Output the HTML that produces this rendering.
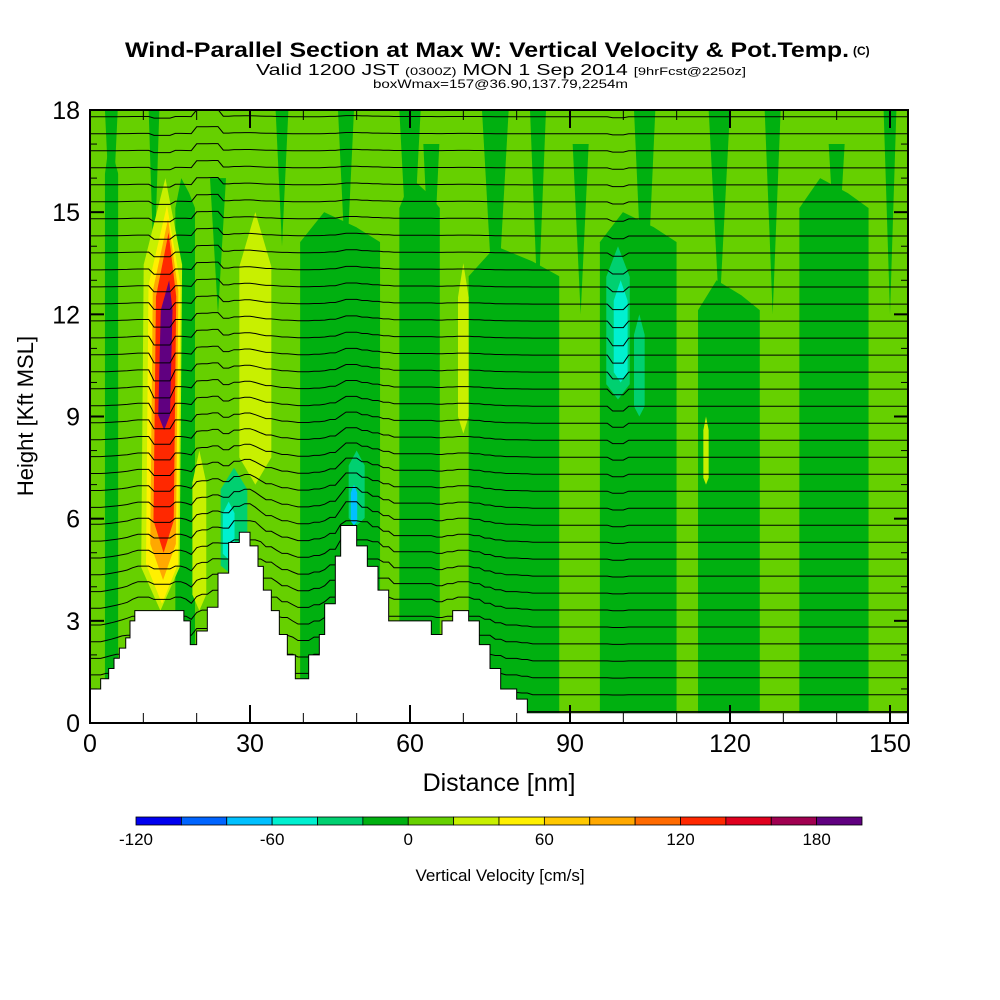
<!DOCTYPE html>
<html><head><meta charset="utf-8"><title>Wind-Parallel Section</title>
<style>
html,body{margin:0;padding:0;background:#fff;}
svg{display:block;font-family:"Liberation Sans Narrow","Liberation Sans",sans-serif;}
</style></head>
<body>
<svg id="chart" width="1000" height="1000" viewBox="0 0 1000 1000" xmlns="http://www.w3.org/2000/svg">
<g>
<text x="125" y="57" font-size="21" font-weight="bold" textLength="724" lengthAdjust="spacingAndGlyphs">Wind-Parallel Section at Max W: Vertical Velocity &amp; Pot.Temp.</text>
<text x="853" y="55" font-size="12" font-weight="bold">(C)</text>
<text x="256" y="75" font-size="16" textLength="490" lengthAdjust="spacingAndGlyphs">Valid 1200 JST <tspan font-size="11">(0300Z)</tspan> MON 1 Sep 2014 <tspan font-size="11">[9hrFcst@2250z]</tspan></text>
<text x="373" y="88" font-size="12" textLength="255" lengthAdjust="spacingAndGlyphs">boxWmax=157@36.90,137.79,2254m</text>
</g>
<defs><clipPath id="plotclip"><rect x="90" y="110" width="818" height="613"/></clipPath></defs>
<g id="plot" clip-path="url(#plotclip)"></g>
<g id="axes"></g>
<g id="cbar"></g>
</svg>
<script>
// ---- data ----
const xTicks = [0, 30, 60, 90, 120, 150];
const yTicks = [0, 3, 6, 9, 12, 15, 18];
const cbarLevels = [-120,-100,-80,-60,-40,-20,0,20,40,60,80,100,120,140,160,180,200];
const cbarLabels = [-120, -60, 0, 60, 120, 180];
const cbarColors = ["#0000f0","#0064ff","#00c0ff","#00f0d0","#00d070","#00b010","#66d000","#c8f000","#fff000","#ffc800","#ffa800","#ff6a00","#ff2800","#e0001e","#a00050","#600080"];
// terrain profile: distance (nm) and height (kft)
const terrainX = [0,2,3.5,4.5,5.5,6.7,7.5,8.4,14,17.6,18.8,20,22,24,26,28,30,31.5,32.5,34,35.5,37,38.5,40,41,43,44,46,47,49,50,52,54,56,58,60,63,64,66,68,69,71,73,75,77,80,82,154];
const terrainH = [1,1.3,1.6,1.9,2.2,2.5,3.0,3.3,3.3,3.0,2.3,2.7,3.4,4.4,5.3,5.6,5.2,4.6,3.9,3.3,2.6,2.0,1.3,1.3,2.0,2.6,3.5,4.9,5.8,5.8,5.2,4.6,3.9,3.0,3.0,3.0,3.0,2.6,3.0,3.3,3.3,3.0,2.3,1.6,1.0,0.7,0.3,0.3];
// vertical velocity columns (nm start, nm end, colour bin index, top kft, bottom kft)
const colX0 = [0,2.8,5.3,9.4,16,19.7,39.4,54.4,58,65.6,71,88,95.6,110,114,125.6,133,146];
const colX1 = [2.8,5.3,9.4,16,19.7,39.4,54.4,58,65.6,71,88,95.6,110,114,125.6,133,146,154];
const colBin = [6,5,6,6,5,6,5,6,5,6,5,6,5,6,5,6,5,6];
const colTop = [18,17,18,18,16,18,15,18,16,18,14,18,15,18,13,18,16,18];
const colBot = [0,0,0,0,0,0,0,0,0,0,0,0,0,0,0,0,0,0];
// upper dark streaks: centre nm, half width nm, top kft, bottom kft
const streakX = [4,12,24,36,48,60,64,76,84,92,104,118,128,140,150];
const streakW = [1.2,1.0,1.5,1.2,1.5,2.0,1.5,2.5,1.5,1.5,2.0,2.0,1.5,1.5,1.2];
const streakTop = [18,18,16,18,18,18,17,18,18,17,18,18,18,17,18];
const streakBot = [14,13,12,14,13,12,12,11,12,12,11,12,12,13,12];
// notable features: centre nm, half-width nm, top kft, bottom kft, bin
const featX = [13.2,13.5,13.7,13.8,13.9,31,31.5,99,99.5,103,70,20.5,27,26,50,49.5,115.5];
const featW = [3.6,3.0,2.4,1.9,1.1,3.0,2.0,2.2,1.3,1.0,1.0,1.3,2.5,1.1,1.5,0.6,0.5];
const featTop = [16,15.2,14.8,14.4,13.0,15,13.5,14,13,12,13.5,8,7.5,6.5,8,7,9];
const featBot = [3.3,3.5,4.2,5.0,8.6,7.0,8.5,9.5,10,9,8.5,3.3,4.3,4.8,5.8,5.8,7];
const featBin = [7,8,10,12,15,7,7,4,3,4,7,7,4,3,4,2,7];
// potential temperature contour base heights (kft)
const thetaLevels = [0.3,0.8,1.3,1.8,2.3,2.8,3.3,3.8,4.3,4.8,5.3,5.8,6.3,6.8,7.3,7.8,8.3,8.8,9.3,9.8,10.3,10.8,11.3,11.8,12.3,12.8,13.3,13.8,14.3,14.8,15.3,15.8,16.3,16.8,17.3,17.8];

// ---- axes ----
const X0=90, X1=908, Y0=723, Y1=110;
const sx = v => X0 + v*(800/150);
const sy = v => Y0 - v*((Y0-Y1)/18);
const NS="http://www.w3.org/2000/svg";
function mk(tag, parent){ const e=document.createElementNS(NS,tag); parent.appendChild(e); return e; }
const plot=document.getElementById('plot'), axes=document.getElementById('axes'), cbar=document.getElementById('cbar');

const bg = mk('rect',plot);


bg.setAttribute('x',X0); bg.setAttribute('y',Y1); bg.setAttribute('width',X1-X0); bg.setAttribute('height',Y0-Y1); bg.setAttribute('fill',cbarColors[6]);

for(let i=0;i<colX0.length;i++){
  const r=mk('polygon',plot);
  
  
  const a=sx(colX0[i]), b=sx(colX1[i]), m=(a+b)/2;
  const t=sy(colTop[i]), bt=sy(colBot[i]);
  const notch = colTop[i]<18 ? 30 : 0;
  r.setAttribute('points',`${a},${bt} ${a},${t+notch} ${m-(b-a)*0.2},${t} ${m+(b-a)*0.2},${t+notch*0.5} ${b},${t+notch} ${b},${bt}`);
  r.setAttribute('fill',cbarColors[colBin[i]]);
}
for(let i=0;i<streakX.length;i++){
  const p=mk('polygon',plot);
  
  
  const c=sx(streakX[i]), w=streakW[i]*(800/150), t=sy(streakTop[i]), b=sy(streakBot[i]);
  p.setAttribute('points',`${c-w},${t} ${c+w},${t} ${c},${b}`);
  p.setAttribute('fill',cbarColors[5]);
}
for(let i=0;i<featX.length;i++){
  const p=mk('polygon',plot);
  
  
  const c=sx(featX[i]), w=featW[i]*(800/150), t=sy(featTop[i]), b=sy(featBot[i]);
  const tilt = i<5 ? 5 : 0;
  p.setAttribute('points',`${c+tilt},${t} ${c+w+tilt*0.5},${t+(b-t)*0.2} ${c+w},${b-(b-t)*0.1} ${c},${b} ${c-w},${b-(b-t)*0.1} ${c-w+tilt*0.5},${t+(b-t)*0.2}`);
  p.setAttribute('fill',cbarColors[featBin[i]]);
}
// terrain height lookup
function terr(x){
  for(let i=0;i<terrainX.length-1;i++){ if(x>=terrainX[i]&&x<=terrainX[i+1]) return terrainH[i]; }
  return terrainH[terrainH.length-1];
}
// theta contours
thetaLevels.forEach((lv,k)=>{
  const pl=mk('polyline',plot);
  
  
  const pts=[];
  for(let x=0;x<=154;x+=1){
    const h=terr(x);
    const decay=Math.exp(-Math.max(0,lv-h)/4);
    let y=lv + Math.min(h,lv)*0.12*decay;
    if(x>=12&&x<=15) y -= 0.35*Math.exp(-Math.abs(lv-10)/4);
    if(x>=98&&x<=100) y -= 0.25*Math.exp(-Math.abs(lv-11)/3);
    if(x>=20&&x<=24) y += 0.2;
    pts.push(sx(x).toFixed(1)+','+sy(y).toFixed(1));
  }
  pl.setAttribute('points',pts.join(' '));
  pl.setAttribute('fill','none'); pl.setAttribute('stroke','#000'); pl.setAttribute('stroke-width','1');
});
// terrain fill
const tp=[];
tp.push(sx(0)+','+sy(0));
for(let i=0;i<terrainX.length-1;i++){
  tp.push(sx(terrainX[i])+','+sy(terrainH[i]));
  tp.push(sx(terrainX[i+1])+','+sy(terrainH[i]));
}
tp.push(sx(154)+','+sy(0));
const tr=mk('polygon',plot);


tr.setAttribute('points',tp.join(' ')); tr.setAttribute('fill','#fff'); tr.setAttribute('stroke','#000'); tr.setAttribute('stroke-width','1');

// frame
const fr=mk('rect',axes);


fr.setAttribute('x',X0); fr.setAttribute('y',Y1); fr.setAttribute('width',X1-X0); fr.setAttribute('height',Y0-Y1);
fr.setAttribute('fill','none'); fr.setAttribute('stroke','#000'); fr.setAttribute('stroke-width','2');
for(let v=0; v<=150; v+=10){
  const major = v%30===0;
  [[Y0,-1],[Y1,1]].forEach(([yy,d])=>{
    const l=mk('line',axes);
    
    
    l.setAttribute('x1',sx(v)); l.setAttribute('x2',sx(v)); l.setAttribute('y1',yy); l.setAttribute('y2',yy+d*(major?18:10));
    l.setAttribute('stroke','#000'); l.setAttribute('stroke-width',major?2:1);
  });
}
xTicks.forEach(v=>{
  const t=mk('text',axes);
  
  
  t.setAttribute('x',sx(v)); t.setAttribute('y',752); t.setAttribute('text-anchor','middle'); t.setAttribute('font-size','25');
  t.setAttribute('font-family','Liberation Sans, sans-serif');
  t.textContent=v;
});
for(let v=0; v<=18; v+=1){
  const major=v%3===0;
  [[X0,1],[X1,-1]].forEach(([xx,d])=>{
    const l=mk('line',axes);
    
    
    l.setAttribute('y1',sy(v)); l.setAttribute('y2',sy(v)); l.setAttribute('x1',xx); l.setAttribute('x2',xx+d*(major?14:7));
    l.setAttribute('stroke','#000'); l.setAttribute('stroke-width',major?2:1);
  });
}
yTicks.forEach(v=>{
  const t=mk('text',axes);
  
  
  t.setAttribute('x',80); t.setAttribute('y',sy(v)+9); t.setAttribute('text-anchor','end'); t.setAttribute('font-size','25');
  t.setAttribute('font-family','Liberation Sans, sans-serif');
  t.textContent=v;
});
const xt=mk('text',axes);


xt.setAttribute('x',499); xt.setAttribute('y',791); xt.setAttribute('text-anchor','middle'); xt.setAttribute('font-size','25'); xt.setAttribute('font-family','Liberation Sans, sans-serif');
xt.textContent='Distance [nm]';
const yt=mk('text',axes);


yt.setAttribute('transform','translate(33,416) rotate(-90)'); yt.setAttribute('text-anchor','middle'); yt.setAttribute('font-size','22'); yt.setAttribute('font-family','Liberation Sans, sans-serif');
yt.textContent='Height [Kft MSL]';

// colorbar
const cb0=136, cb1=862, cw=(cb1-cb0)/16;
const cx = v => cb0 + (v-cbarLevels[0])/(cbarLevels[16]-cbarLevels[0])*(cb1-cb0);
cbarColors.forEach((c,i)=>{
  const r=mk('rect',cbar);
  
  
  r.setAttribute('x',cx(cbarLevels[i])); r.setAttribute('y',817); r.setAttribute('width',cw); r.setAttribute('height',8);
  r.setAttribute('fill',c); r.setAttribute('stroke','#000'); r.setAttribute('stroke-width','0.8');
});
cbarLabels.forEach(v=>{
  const t=mk('text',cbar);
  
  
  t.setAttribute('x',cx(v)); t.setAttribute('y',845); t.setAttribute('text-anchor','middle'); t.setAttribute('font-size','17'); t.setAttribute('font-family','Liberation Sans, sans-serif');
  t.textContent=v;
});
const ct=mk('text',cbar);


ct.setAttribute('x',500); ct.setAttribute('y',881); ct.setAttribute('text-anchor','middle'); ct.setAttribute('font-size','17'); ct.setAttribute('font-family','Liberation Sans, sans-serif');
ct.textContent='Vertical Velocity [cm/s]';
</script>
</body></html>
